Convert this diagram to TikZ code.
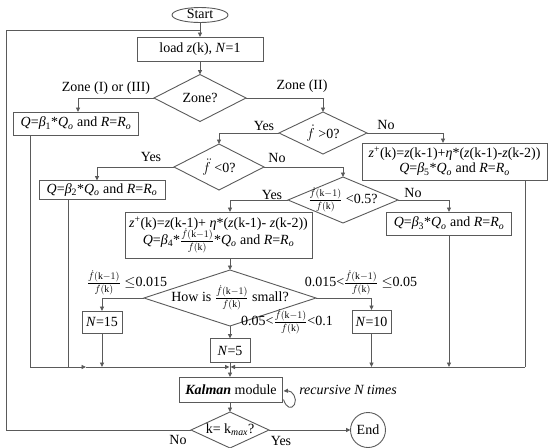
\documentclass[tikz,border=0pt]{standalone}
\usepackage{fontspec}
\setmainfont{Liberation Serif}
\usetikzlibrary{shapes.geometric,arrows.meta,calc}
\definecolor{linec}{RGB}{90,90,90}
\newcommand{\myfr}{$\frac{\dot{f}(\mathrm{k}-1)}{\dot{f}(\mathrm{k})}$}
\newcommand{\myQo}{\textit{Q}\textsubscript{\textit{o}}}
\newcommand{\myRR}{\textit{R}=\textit{R}\textsubscript{\textit{o}}}
\tikzset{
  box/.style={draw=linec, line width=0.9pt, rectangle, inner sep=0pt, outer sep=0pt, align=center},
  dia/.style={draw=linec, line width=0.9pt, diamond, inner sep=0pt, outer sep=0pt},
  conn/.style={draw=linec, line width=0.9pt},
  arr/.style={conn, -{Triangle[length=4.5pt,width=4pt]}},
  lbl/.style={inner sep=0pt, align=center}
}
\begin{document}
\begin{tikzpicture}[x=1pt,y=-1pt,font=\fontsize{14}{16}\selectfont]
\useasboundingbox (0,0) rectangle (550,448);
% nodes
\node[box, ellipse, minimum width=56, minimum height=15, text height=8pt, text depth=1pt] (start) at (200,15) {Start};
\node[box, minimum width=126, minimum height=24] (load) at (200,49) {load \textit{z}(k), \textit{N}=1};
\node[dia, minimum width=92, minimum height=47] (zone) at (200,98) {};
\node[lbl] (zonet) at (zone) {Zone?};
\node[lbl] (zl) at (106,88) {Zone (I) or (III)};
\node[lbl] (zr) at (302,86) {Zone (II)};
\node[box, minimum width=125, minimum height=23] (q1) at (76,123.5) {\textit{Q}=\textit{β}\textsubscript{1}*\myQo{} and \myRR};
\node[dia, minimum width=88, minimum height=42] (fd1) at (323,133) {};
\node[lbl] (fd1t) at (fd1) {$\dot{f}$ >0?};
\node[lbl] (yes1) at (264,126) {Yes};
\node[lbl] (no1) at (386,125) {No};
\node[box, minimum width=185, minimum height=37] (zbox) at (454.5,161.5) {\textit{z}\textsuperscript{+}(k)=\textit{z}(k-1)+\textit{η}*(\textit{z}(k-1)-\textit{z}(k-2))\\[-1pt]\textit{Q}=\textit{β}\textsubscript{5}*\myQo{} and \myRR};
\node[dia, minimum width=90, minimum height=46] (fdd) at (219,167) {};
\node[lbl] (fddt) at (fdd) {$\ddot{f}$ <0?};
\node[lbl] (yes2) at (151,157) {Yes};
\node[lbl] (no2) at (277,158) {No};
\node[box, minimum width=126, minimum height=19] (q2) at (102,190) {\textit{Q}=\textit{β}\textsubscript{2}*\myQo{} and \myRR};
\node[dia, minimum width=110, minimum height=46] (rd) at (343,200) {};
\node[lbl] (rdt) at (rd) {\myfr{} <0.5?};
\node[lbl] (yes3) at (272,195) {Yes};
\node[lbl] (no3) at (413,193) {No};
\node[box, minimum width=125, minimum height=23] (q3) at (449,223.5) {\textit{Q}=\textit{β}\textsubscript{3}*\myQo{} and \myRR};
\node[box, minimum width=187, minimum height=46] (big) at (218.5,235) {\textit{z}\textsuperscript{+}(k)=\textit{z}(k-1)+ \textit{η}*(\textit{z}(k-1)- \textit{z}(k-2))\\[-3pt]\textit{Q}=\textit{β}\textsubscript{4}*\myfr*\myQo{} and \myRR};
\node[dia, minimum width=172, minimum height=56] (how) at (230,298) {};
\node[lbl] (howt) at (how) {How is \myfr{} small?};
\node[lbl] (l15) at (127,283) {\myfr{} $\le$0.015};
\node[lbl] (l10) at (361,283) {0.015<\myfr{} $\le$0.05};
\node[lbl] (l5) at (287,322) {0.05<\myfr<0.1};
\node[box, minimum width=40, minimum height=22] (n15) at (102,322) {\textit{N}=15};
\node[box, minimum width=39, minimum height=23] (n10) at (371.5,321.5) {\textit{N}=10};
\node[box, minimum width=40, minimum height=24] (n5) at (230,350.5) {\textit{N}=5};
\node[box, minimum width=103, minimum height=25] (kal) at (231,389.5) {\textbf{\textit{Kalman}} module};
\node[lbl] (rec) at (348,390) {\textit{recursive N times}};
\node[dia, minimum width=78, minimum height=36] (km) at (230,430) {};
\node[lbl] (kmt) at (km) {k= k\textsubscript{\textit{max}}?};
\node[lbl] (nokm) at (178,440) {No};
\node[lbl] (yeskm) at (281,441) {Yes};
\node[box, circle, minimum size=35] (end) at (368,430) {End};
% coordinates
\coordinate (bl) at (30,367);
\coordinate (br) at (525,367);
\coordinate (bm) at (230,367);
\coordinate (ba) at (86,367);
\coordinate (fb) at (6,30);
% connectors
\draw[arr] (start) -- (load);
\draw[arr] (load) -- (zone);
\draw[arr] (zone.west) -| ([xshift=2pt]q1.north);
\draw[arr] (zone.east) -| (fd1.north);
\draw[arr] (fd1.west) -| (fdd.north);
\draw[arr] (fd1.east) -| ([xshift=-11.5pt]zbox.north);
\draw[arr] (fdd.west) -| ([xshift=-5pt]q2.north);
\draw[arr] (fdd.east) -| (rd.north);
\draw[arr] (rd.east) -| (q3.north);
\draw[arr] (rd.west) -| ([xshift=11.5pt]big.north);
\draw[arr] ([xshift=11.5pt]big.south) -- (how.north);
\draw[arr] (how.west) -| (n15.north);
\draw[arr] (how.east) -| (n10.north);
\draw[arr] (how.south) -- (n5.north);
\draw[conn] ([xshift=-46pt]q1.south) -- (bl);
\draw[conn] ([xshift=-34pt]q2.south) -- (q2.south -| 68,0) ;
\draw[conn] ([xshift=-34pt]q2.south) -- ([xshift=-34pt]q2.south |- bm);
\draw[arr] (bl) -- (ba);
\draw[arr] (ba) -- ([xshift=-0.5pt]bm);
\draw[arr] (br) -- ([xshift=0.5pt]bm);
\draw[arr] (n15.south) -- (n15.south |- bm);
\draw[arr] (n10.south) -- (n10.south |- bm);
\draw[arr] (q3.south) -- (q3.south |- bm);
\draw[conn] ([xshift=70.5pt]zbox.south) -- (br);
\draw[conn] (n5.south) -- (bm);
\draw[arr] (bm) -- (bm |- kal.north);
\draw[arr] (bm |- kal.south) -- (km.north);
\draw[arr] (km.east) -- (end.west);
\draw[conn] (km.west) -| (fb) -- (start.south |- fb);
\draw[arr] ($(kal.east)+(1,10)$) .. controls ($(kal.east)+(4,19)$) and ($(kal.east)+(9,20)$) .. ($(kal.east)+(12,15)$) .. controls ($(kal.east)+(15,9)$) and ($(kal.east)+(10,1)$) .. ($(kal.east)+(1,1.5)$);
\end{tikzpicture}
\end{document}
